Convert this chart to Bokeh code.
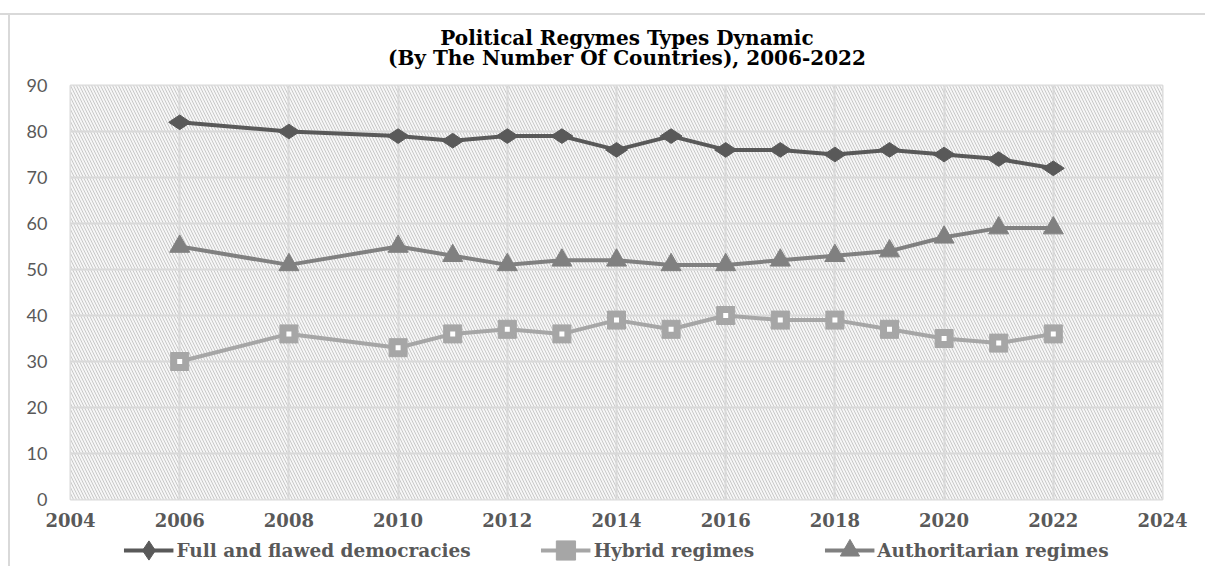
from bokeh.plotting import figure
from bokeh.layouts import column
from bokeh.models import FixedTicker, Legend, LegendItem, BoxAnnotation, Range1d, Label
from bokeh.embed import file_html
from bokeh.resources import INLINE
import math

years = [2006, 2008, 2010, 2011, 2012, 2013, 2014, 2015, 2016, 2017, 2018, 2019, 2020, 2021, 2022]
democracies = [82, 80, 79, 78, 79, 79, 76, 79, 76, 76, 75, 76, 75, 74, 72]
hybrid = [30, 36, 33, 36, 37, 36, 39, 37, 40, 39, 39, 37, 35, 34, 36]
authoritarian = [55, 51, 55, 53, 51, 52, 52, 51, 51, 52, 53, 54, 57, 59, 59]
series_names = ["Full and flawed democracies", "Hybrid regimes", "Authoritarian regimes"]
x_ticks = list(range(2004, 2025, 2))
y_ticks = list(range(0, 91, 10))
title_lines = ["Political Regymes Types Dynamic", "(By The Number Of Countries), 2006-2022"]

SERIF = "DejaVu Serif"
GRID = "#d9d9d9"
C_DEM, C_HYB, C_AUT = "#595959", "#a6a6a6", "#808080"


def strip(height, top=0):
    f = figure(width=1205, height=height, x_range=Range1d(0, 1205), y_range=Range1d(0, height - top),
               output_backend="svg", toolbar_location=None,
               min_border_left=0, min_border_right=0, min_border_top=top, min_border_bottom=0)
    f.axis.visible = False
    f.grid.visible = False
    f.outline_line_color = None
    f.background_fill_alpha = 0
    f.border_fill_alpha = 0
    return f


# ---- title strip ----
tf = strip(75)
for line, ypos in zip(title_lines, (38, 18)):
    tf.add_layout(Label(x=614, y=ypos, text=line, text_align="center", text_baseline="middle",
                        text_font=SERIF, text_font_style="bold", text_font_size="20px",
                        text_color="#000000"))

# ---- main chart ----
p = figure(width=1205, height=455, x_range=Range1d(2004, 2024), y_range=Range1d(0, 90),
           output_backend="svg", toolbar_location=None,
           min_border_left=70, min_border_right=43, min_border_top=10, min_border_bottom=31)
p.background_fill_color = "#ffffff"
p.border_fill_alpha = 0
p.outline_line_color = GRID
p.outline_line_width = 2

p.add_layout(BoxAnnotation(left=x_ticks[0], right=x_ticks[-1], bottom=y_ticks[0], top=y_ticks[-1],
                           fill_color="#f6f6f6", fill_alpha=1.0, hatch_pattern="\\",
                           hatch_color="#c8c8c8", hatch_scale=6, hatch_weight=1,
                           line_color=None, level="image"))

p.xgrid.ticker = FixedTicker(ticks=x_ticks)
p.ygrid.ticker = FixedTicker(ticks=y_ticks)
p.grid.grid_line_color = GRID
p.grid.grid_line_width = 2

p.xaxis.ticker = FixedTicker(ticks=x_ticks)
p.yaxis.ticker = FixedTicker(ticks=y_ticks)
for ax in (p.xaxis, p.yaxis):
    ax.axis_line_color = None
    ax.major_tick_line_color = None
    ax.minor_tick_line_color = None
p.xaxis.major_label_text_font = SERIF
p.xaxis.major_label_text_font_style = "bold"
p.xaxis.major_label_text_font_size = "18px"
p.xaxis.major_label_text_color = "#595959"
p.xaxis.major_label_standoff = 7
p.yaxis.major_label_text_font = "Lato"
p.yaxis.major_label_text_font_size = "18px"
p.yaxis.major_label_text_color = "#595959"
p.yaxis.major_label_standoff = 17

p.line(years, democracies, line_color=C_DEM, line_width=4)
p.scatter(years, democracies, marker="diamond", size=22, angle=math.pi / 2,
          fill_color=C_DEM, line_color=C_DEM)
p.line(years, hybrid, line_color=C_HYB, line_width=4)
p.scatter(years, hybrid, marker="square", size=18, fill_color=C_HYB, line_color=C_HYB)
p.scatter(years, hybrid, marker="square", size=5, fill_color="#ffffff", line_color=None)
p.line(years, authoritarian, line_color=C_AUT, line_width=4)
p.scatter(years, authoritarian, marker="triangle", size=20, fill_color=C_AUT, line_color=C_AUT)

# ---- legend strip (series drawn off-range, only used for the legend swatches) ----
lf = strip(36, top=4)
l1 = lf.line(years, democracies, line_color=C_DEM, line_width=4)
m1 = lf.scatter(years, democracies, marker="diamond", size=22, angle=math.pi / 2,
                fill_color=C_DEM, line_color=C_DEM)
l2 = lf.line(years, hybrid, line_color=C_HYB, line_width=4)
m2 = lf.scatter(years, hybrid, marker="square", size=18, fill_color=C_HYB, line_color=C_HYB)
l3 = lf.line(years, authoritarian, line_color=C_AUT, line_width=4)
m3 = lf.scatter(years, authoritarian, marker="triangle", size=20, fill_color=C_AUT, line_color=C_AUT)
lf.y_range = Range1d(-1000, -900)

legend = Legend(items=[LegendItem(label=series_names[0], renderers=[l1, m1]),
                       LegendItem(label=series_names[1], renderers=[l2, m2]),
                       LegendItem(label=series_names[2], renderers=[l3, m3])],
                orientation="horizontal", location="center",
                label_text_font=SERIF, label_text_font_style="bold",
                label_text_font_size="18.5px", label_text_color="#595959",
                glyph_width=50, glyph_height=48, spacing=70, label_standoff=3,
                border_line_alpha=0, background_fill_alpha=0, padding=0, margin=0)
lf.add_layout(legend)

layout = column(tf, p, lf, spacing=0, styles={
    "background-color": "#ffffff",
    "background-image": ("linear-gradient(to bottom, #ffffff 0px, #ffffff 13px, #d9d9d9 13px, "
                         "#d9d9d9 15px, rgba(255,255,255,0) 15px), "
                         "linear-gradient(to right, #ffffff 0px, #ffffff 8px, #d9d9d9 8px, "
                         "#d9d9d9 10px, rgba(255,255,255,0) 10px)"),
})
open("out.html", "w").write(file_html(layout, INLINE))
